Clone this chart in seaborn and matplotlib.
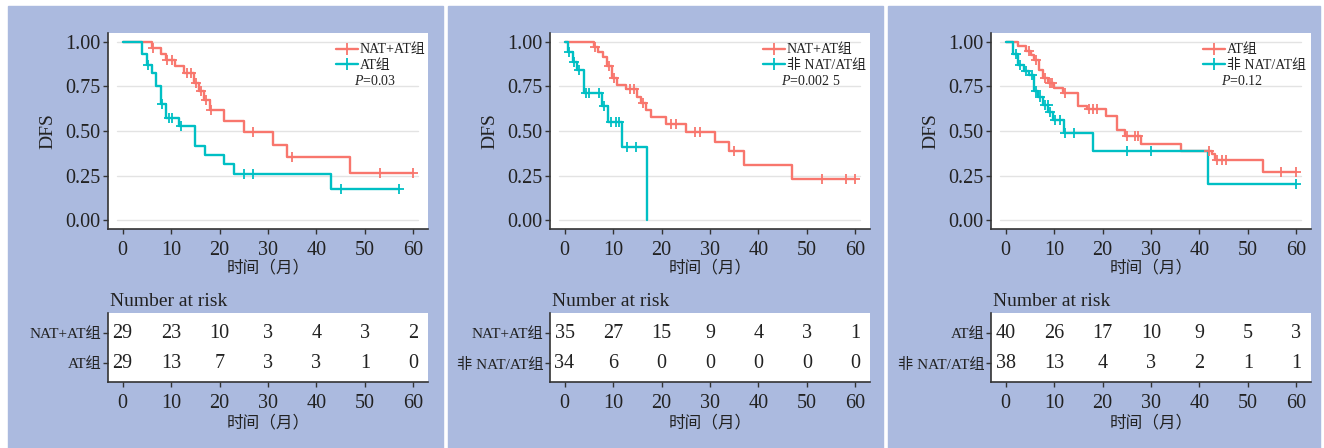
import matplotlib
matplotlib.use('Agg')
import matplotlib.pyplot as plt
from matplotlib.lines import Line2D
from matplotlib.patches import Rectangle
import numpy as np
import seaborn as sns

# ---- values ----
risk_times = [0, 10, 20, 30, 40, 50, 60]
red = '#F8766D'
teal = '#00BFC4'

# panel 1: NAT+AT组 vs AT组
p1_labels = ['NAT+AT组', 'AT组']
p1_pval = '=0.03'
p1_a_t = [0, 6, 8, 9, 10.8, 12.7, 14.8, 15.8, 16.8, 18, 21, 25, 31, 34, 47, 60]
p1_a_s = [1.0, 0.966, 0.93, 0.90, 0.862, 0.825, 0.772, 0.722, 0.672, 0.616, 0.554, 0.493, 0.424, 0.354, 0.265, 0.265]
p1_a_c = [6.2, 9.2, 10.2, 13.2, 14.2, 15.2, 16.2, 17.3, 18.3, 27, 35, 53, 60]
p1_b_t = [0, 4, 5, 6, 7, 8, 9, 11.7, 15, 17, 21, 23, 43, 57]
p1_b_s = [1.0, 0.933, 0.871, 0.828, 0.754, 0.653, 0.573, 0.526, 0.418, 0.366, 0.312, 0.261, 0.172, 0.172]
p1_b_c = [5.2, 8.2, 9.5, 10.2, 12.1, 25, 27, 45, 57]
p1_risk_a = [29, 23, 10, 3, 4, 3, 2]
p1_risk_b = [29, 13, 7, 3, 3, 1, 0]

# panel 2: NAT+AT组 vs 非NAT/AT组
p2_labels = ['NAT+AT组', '非 NAT/AT组']
p2_pval = '=0.002 5'
p2_a_t = [0, 6, 7, 8, 8.8, 9.8, 10.8, 12.7, 15, 15.8, 16.8, 17.8, 21, 25, 31, 34, 37, 47, 60]
p2_a_s = [1.0, 0.971, 0.943, 0.914, 0.862, 0.80, 0.76, 0.735, 0.69, 0.657, 0.616, 0.578, 0.541, 0.493, 0.437, 0.386, 0.308, 0.231, 0.231]
p2_a_c = [6.2, 9.2, 10.2, 13.5, 14.3, 16.2, 22, 23, 27, 28, 35, 53, 58, 60]
p2_b_t = [0, 0.8, 1.7, 2.6, 4, 7.8, 8.9, 11.8, 17]
p2_b_s = [1.0, 0.946, 0.89, 0.845, 0.712, 0.642, 0.552, 0.412, 0.0]
p2_b_c = [1.0, 2.0, 3.0, 4.4, 5.1, 7.2, 8.2, 9.6, 10.6, 11.2, 12.8, 14.8]
p2_risk_a = [35, 27, 15, 9, 4, 3, 1]
p2_risk_b = [34, 6, 0, 0, 0, 0, 0]

# panel 3: AT组 vs 非NAT/AT组
p3_labels = ['AT组', '非 NAT/AT组']
p3_pval = '=0.12'
p3_a_t = [0, 2.6, 4.3, 5.3, 5.9, 6.9, 7.8, 8.8, 10, 11.9, 15, 16.7, 20.8, 23, 24.6, 28, 36.1, 42.6, 43.2, 53, 60]
p3_a_s = [1.0, 0.975, 0.95, 0.925, 0.90, 0.843, 0.80, 0.772, 0.741, 0.713, 0.642, 0.623, 0.582, 0.507, 0.474, 0.429, 0.386, 0.37, 0.34, 0.27, 0.27]
p3_a_c = [4.8, 6.2, 8.2, 9.2, 9.6, 12.2, 17.2, 18, 18.9, 25, 26.6, 27.4, 42, 43.6, 44.6, 45.4, 56.8, 60]
p3_b_t = [0, 1.6, 2.6, 3.8, 4.9, 5.9, 6.7, 7.8, 8.8, 9.8, 12, 18, 41.8, 60]
p3_b_s = [1.0, 0.933, 0.871, 0.834, 0.815, 0.722, 0.69, 0.647, 0.604, 0.563, 0.489, 0.386, 0.20, 0.20]
p3_b_c = [2.1, 3.0, 4.3, 5.4, 6.2, 7.1, 8.2, 8.7, 9.2, 10.3, 11.2, 12.3, 14.1, 25, 30, 60]
p3_risk_a = [40, 26, 17, 10, 9, 5, 3]
p3_risk_b = [38, 13, 4, 3, 2, 1, 1]

# ---- style ----
sns.set_style('white')
plt.rcParams['font.family'] = ['Liberation Serif', 'Noto Sans CJK SC']
plt.rcParams['mathtext.fontset'] = 'custom'
plt.rcParams['mathtext.rm'] = 'Liberation Serif'
plt.rcParams['mathtext.it'] = 'Liberation Serif:italic'
txt = '#222222'
spine_c = '#333333'
blue = '#abbadf'

W, H = 1324, 448
fig = plt.figure(figsize=(W / 100, H / 100), dpi=100, facecolor='white')


def box(x0, y0, x1, y1):
    return [x0 / W, 1 - y1 / H, (x1 - x0) / W, (y1 - y0) / H]


for bx in [(8, 443), (448, 883), (888, 1320)]:
    fig.patches.append(Rectangle((bx[0] / W, 0), (bx[1] - bx[0]) / W, 1 - 6 / H,
                                 transform=fig.transFigure, color=blue, zorder=-10))


def style_axes(ax):
    for s in ['top', 'right']:
        ax.spines[s].set_visible(False)
    for s in ['left', 'bottom']:
        ax.spines[s].set_color(spine_c)
        ax.spines[s].set_linewidth(1.2)
    ax.tick_params(direction='out', length=3.5, width=1, color=spine_c,
                   labelcolor=txt, left=True, bottom=True)


def step_at(t, s, c):
    t = np.asarray(t)
    s = np.asarray(s)
    return s[np.searchsorted(t, c, side='right') - 1]


def panel(ox, labels, curves, risks, pval, leg_x, p_x):
    ax = fig.add_axes(box(ox + 108, 33, ox + 428, 229))
    style_axes(ax)
    for yv in [0, 0.25, 0.5, 0.75, 1.0]:
        ax.axhline(yv, xmin=0.028, xmax=0.97, color='#e3e3e3', lw=1, zorder=0)
    handles = []
    for (t, s, c), col in zip(curves, [red, teal]):
        sns.lineplot(x=t, y=s, drawstyle='steps-post', color=col, lw=1.7,
                     estimator=None, sort=False, ax=ax, legend=False)
        sns.scatterplot(x=c, y=step_at(t, s, c), marker='+', s=55, color=col,
                        linewidth=1.3, ax=ax, legend=False, zorder=3)
        handles.append(Line2D([], [], color=col, lw=1.7, marker='+', ms=9, mew=1.3))
    ax.set_xlim(-3, 63)
    ax.set_ylim(-0.05, 1.05)
    ax.set_xticks(risk_times)
    ax.set_yticks([0, 0.25, 0.5, 0.75, 1.0])
    ax.set_yticklabels(['0.00', '0.25', '0.50', '0.75', '1.00'])
    ax.tick_params(labelsize=14.5)
    ax.tick_params(axis='x', pad=5)
    ax.tick_params(axis='y', pad=2)
    ax.set_ylabel('DFS', fontsize=14, color=txt, labelpad=6)
    ax.set_xlabel('时间（月）', fontsize=12, color=txt)
    ax.xaxis.set_label_coords(0.5, -0.2)
    ax.xaxis.label.set_va('center')
    ax.legend(handles, labels, loc='upper left', bbox_to_anchor=(leg_x, 0.975),
              frameon=False, fontsize=10, handlelength=1.6, handletextpad=0.15,
              labelspacing=0.2, borderaxespad=0.2, borderpad=0.2,
              labelcolor=txt)
    ax.text(p_x, 0.755, '$\\it{P}$' + pval, transform=ax.transAxes,
            fontsize=10, color=txt, va='center', ha='left')

    rx = fig.add_axes(box(ox + 108, 313, ox + 428, 382))
    style_axes(rx)
    for row, vals in zip([2, 1], risks):
        for tt, v in zip(risk_times, vals):
            rx.text(tt, row, str(v), ha='center', va='center', fontsize=14.5, color=txt)
    rx.set_xlim(-3, 63)
    rx.set_ylim(0.367, 2.667)
    rx.set_xticks(risk_times)
    rx.set_yticks([2, 1])
    rx.set_yticklabels(labels, fontsize=11)
    rx.tick_params(axis='x', labelsize=14.5, pad=5)
    rx.tick_params(axis='y', pad=1)
    rx.text(0.005, 1.16, 'Number at risk', transform=rx.transAxes,
            fontsize=14, color=txt, va='center', ha='left')
    rx.set_xlabel('时间（月）', fontsize=12, color=txt)
    rx.xaxis.set_label_coords(0.5, -0.6)
    rx.xaxis.label.set_va('center')


panel(0, p1_labels,
      [(p1_a_t, p1_a_s, p1_a_c), (p1_b_t, p1_b_s, p1_b_c)],
      [p1_risk_a, p1_risk_b], p1_pval, 0.694, 0.769)
panel(442, p2_labels,
      [(p2_a_t, p2_a_s, p2_a_c), (p2_b_t, p2_b_s, p2_b_c)],
      [p2_risk_a, p2_risk_b], p2_pval, 0.647, 0.722)
panel(883, p3_labels,
      [(p3_a_t, p3_a_s, p3_a_c), (p3_b_t, p3_b_s, p3_b_c)],
      [p3_risk_a, p3_risk_b], p3_pval, 0.644, 0.719)

fig.savefig('out.png', dpi=100, facecolor='white')
